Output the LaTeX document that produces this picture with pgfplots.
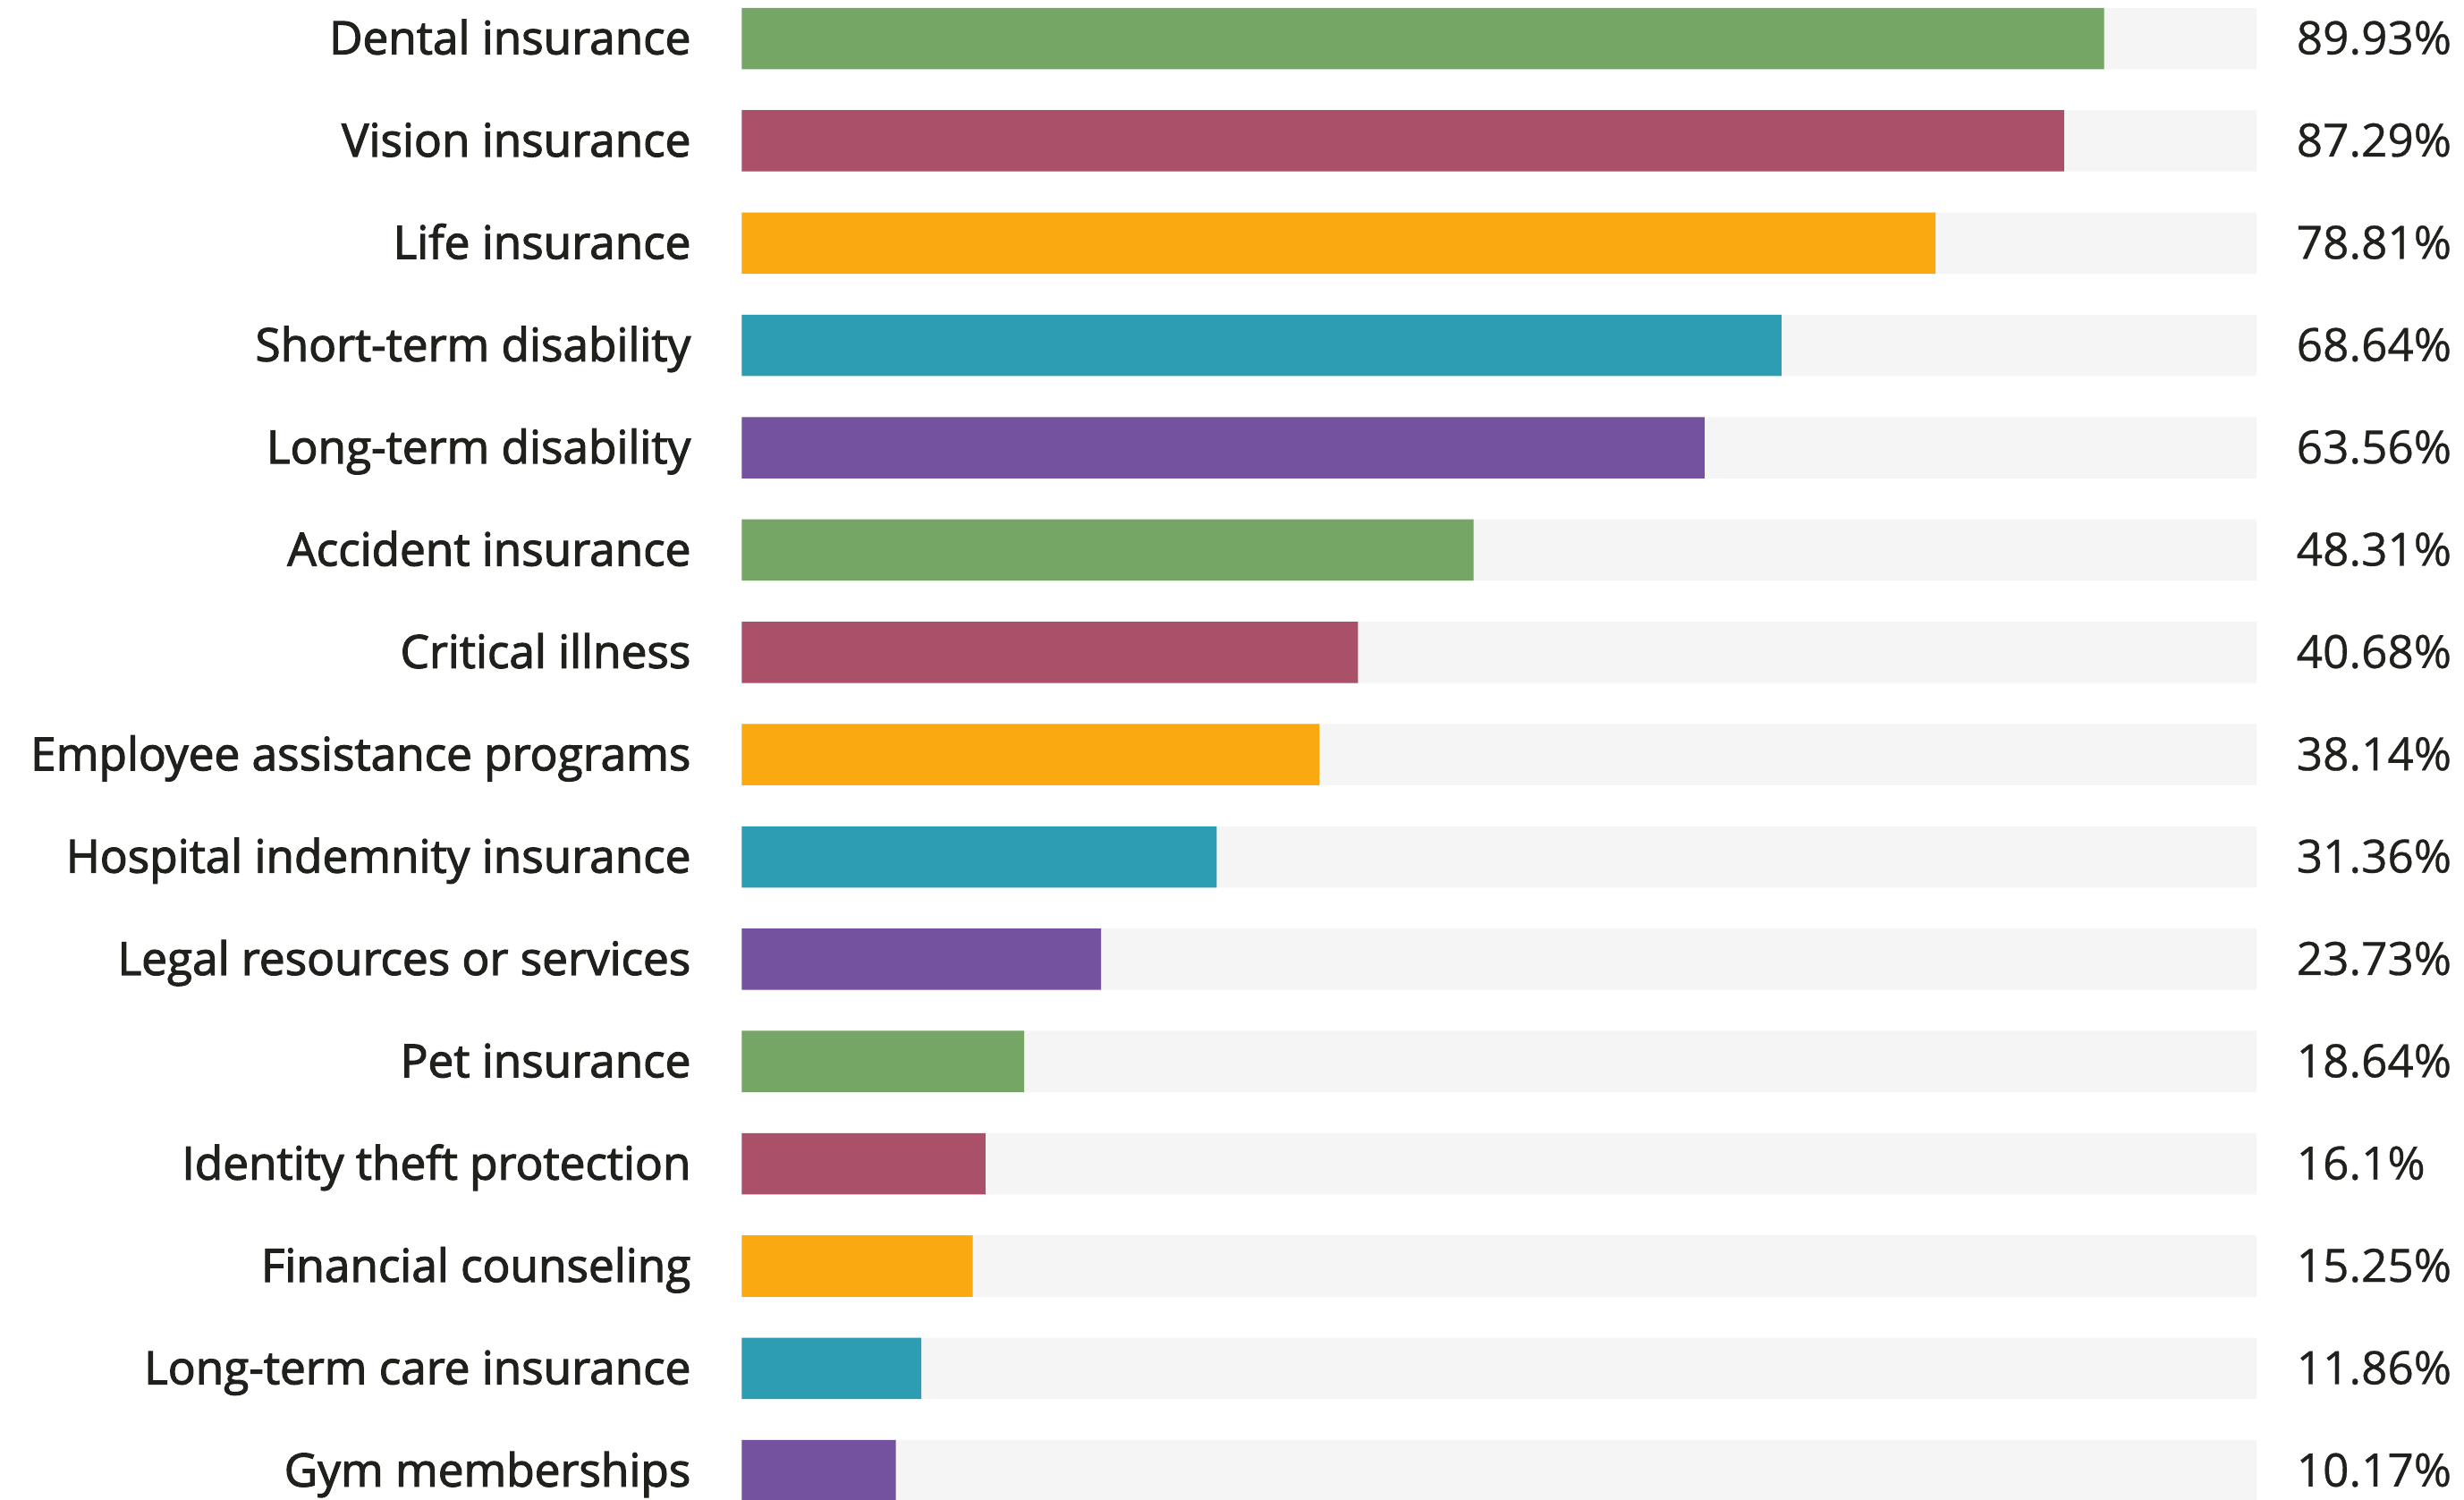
\documentclass[border=0pt]{standalone}
\usepackage{fontspec}
\setmainfont{Open Sans}[FakeBold=0.6]
\newfontfamily\labfont{Open Sans}[FakeBold=2.2]
\usepackage{pgfplots}
\pgfplotsset{compat=1.18}
\usepackage{pgfplotstable}

\definecolor{cgreen}{HTML}{76A665}
\definecolor{cmaroon}{HTML}{AA5068}
\definecolor{corange}{HTML}{FAAA10}
\definecolor{cteal}{HTML}{2D9DB3}
\definecolor{cpurple}{HTML}{7552A0}
\definecolor{bggray}{HTML}{F4F5F4}
\definecolor{txt}{HTML}{1E211C}

% idx full value
\pgfplotstableread{
idx full value
0 100 89.93
1 100 87.29
2 100 78.81
3 100 68.64
4 100 63.56
5 100 48.31
6 100 40.68
7 100 38.14
8 100 31.36
9 100 23.73
10 100 18.64
11 100 16.1
12 100 15.25
13 100 11.86
14 100 10.17
}\valtable

\begin{document}
\begin{tikzpicture}
\begin{axis}[
    width=482pt, height=477pt, scale only axis,
    xmin=0, xmax=100, ymin=-0.376, ymax=14.28,
    y dir=reverse,
    axis line style={draw=none},
    major tick length=0pt,
    xtick=\empty,
    ytick={0,...,14},
    yticklabels={Dental insurance, Vision insurance, Life insurance, Short-term disability, Long-term disability, Accident insurance, Critical illness, Employee assistance programs, Hospital indemnity insurance, Legal resources or services, Pet insurance, Identity theft protection, Financial counseling, Long-term care insurance, Gym memberships},
    yticklabel style={font=\labfont\fontsize{14.6}{16}\selectfont, text=txt, anchor=east, xshift=-16pt, inner sep=0pt, text height=12pt, text depth=2pt},
    bar width=19.5pt,
    clip=false,
]
\addplot[xbar, bar shift=0pt, fill=bggray, draw=none,
    point meta=explicit symbolic,
    nodes near coords={\pgfplotspointmeta\%},
    nodes near coords style={anchor=west, xshift=12.5pt, inner sep=0pt, font=\fontsize{14.6}{16}\selectfont, text=txt, text height=12pt, text depth=2pt}]
    table[x=full, y=idx, meta=value] {\valtable};
\addplot[xbar, bar shift=0pt, fill=cgreen, draw=none] coordinates {(89.93,0) (48.31,5) (18.64,10)};
\addplot[xbar, bar shift=0pt, fill=cmaroon, draw=none] coordinates {(87.29,1) (40.68,6) (16.1,11)};
\addplot[xbar, bar shift=0pt, fill=corange, draw=none] coordinates {(78.81,2) (38.14,7) (15.25,12)};
\addplot[xbar, bar shift=0pt, fill=cteal, draw=none] coordinates {(68.64,3) (31.36,8) (11.86,13)};
\addplot[xbar, bar shift=0pt, fill=cpurple, draw=none] coordinates {(63.56,4) (23.73,9) (10.17,14)};
\coordinate (A) at (axis cs:-48.96,-0.376);
\coordinate (B) at (axis cs:113.69,14.28);
\end{axis}
\pgfresetboundingbox
\useasboundingbox (A) rectangle (B);
\end{tikzpicture}
\end{document}
